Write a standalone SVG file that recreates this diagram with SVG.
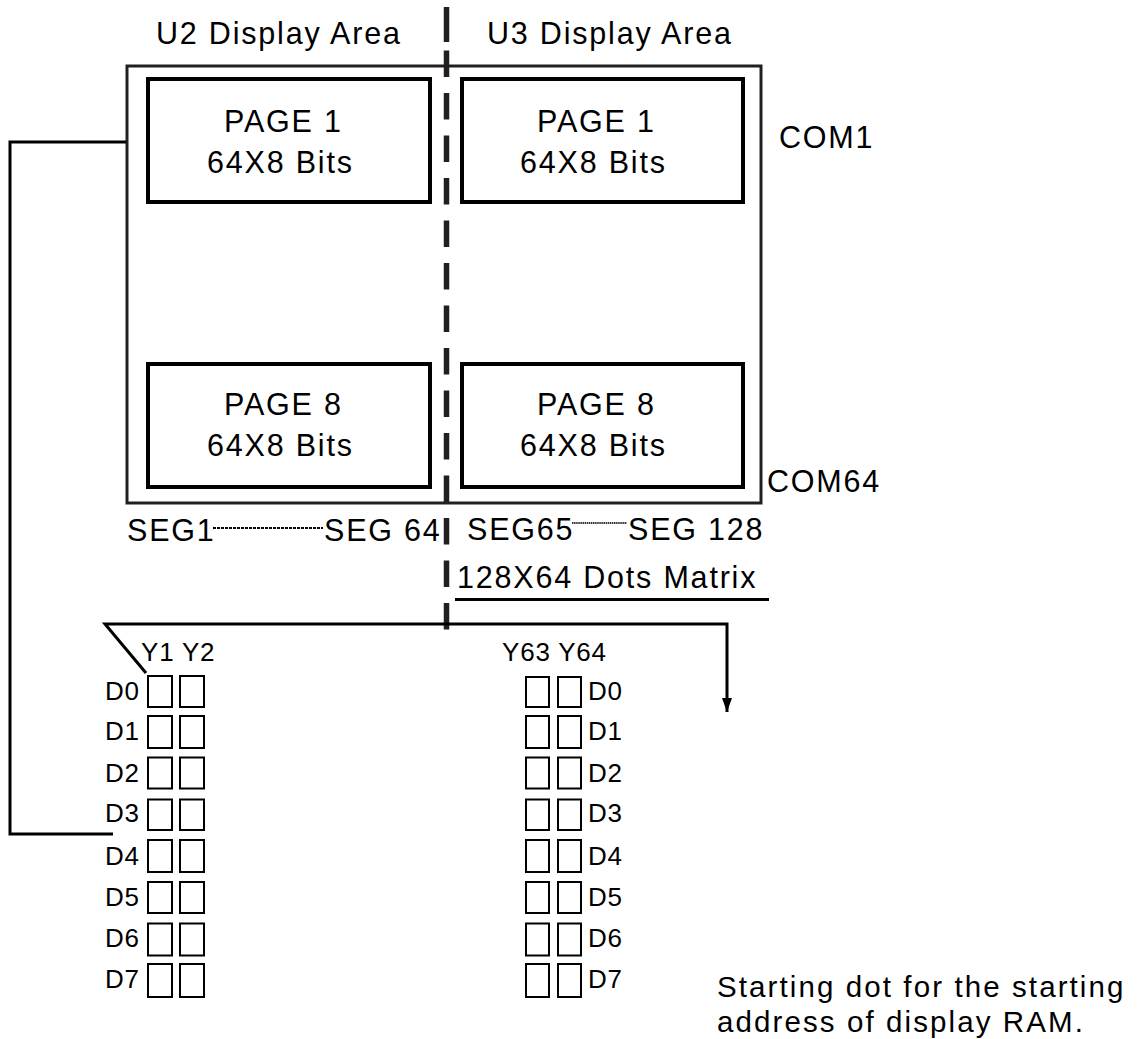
<svg xmlns="http://www.w3.org/2000/svg" width="1138" height="1039" viewBox="0 0 1138 1039">
<style>
  .big { font-family: "Liberation Sans", Arial, sans-serif; font-size: 30.5px; letter-spacing: 1.8px; fill: #000; }
  .note { font-family: "Liberation Sans", Arial, sans-serif; font-size: 29.5px; letter-spacing: 2.1px; fill: #000; }
  .small { font-family: "Liberation Sans", Arial, sans-serif; font-size: 26px; letter-spacing: 0.8px; fill: #000; }
  .page { fill: none; stroke: #000; stroke-width: 4; }
  .cell { fill: none; stroke: #000; stroke-width: 2; }
  .line { fill: none; stroke: #000; stroke-width: 3; }
  .dash { fill: none; stroke: #231f20; stroke-width: 5.5; }
</style>
<defs>
  <marker id="arrow" viewBox="0 0 14 10" refX="14" refY="5" markerWidth="14" markerHeight="10" markerUnits="userSpaceOnUse" orient="auto">
    <path d="M0,0 L14,5 L0,10 Z" fill="#000"/>
  </marker>
</defs>

<g id="outer-frame">
  <rect x="127" y="66" width="634" height="437" fill="none" stroke="#231f20" stroke-width="3"/>
</g>

<g id="divider">
  <line x1="446.5" y1="7" x2="446.5" y2="42" class="dash"/>
  <line x1="446.5" y1="50.5" x2="446.5" y2="630" class="dash" stroke-dasharray="26.5 16"/>
</g>

<g id="titles">
  <text x="156" y="44" class="big">U2 Display Area</text>
  <text x="487" y="43.5" class="big">U3 Display Area</text>
</g>

<g id="u2-page1">
  <rect x="148" y="79" width="282" height="123" class="page"/>
  <text x="224" y="131.5" class="big">PAGE 1</text>
  <text x="207" y="172.5" class="big">64X8 Bits</text>
</g>
<g id="u3-page1">
  <rect x="462" y="79" width="281" height="123" class="page"/>
  <text x="537" y="131.5" class="big">PAGE 1</text>
  <text x="520" y="172.5" class="big">64X8 Bits</text>
</g>
<g id="u2-page8">
  <rect x="148" y="364" width="282" height="123" class="page"/>
  <text x="224" y="415" class="big">PAGE 8</text>
  <text x="207" y="455.5" class="big">64X8 Bits</text>
</g>
<g id="u3-page8">
  <rect x="462" y="364" width="281" height="123" class="page"/>
  <text x="537" y="415" class="big">PAGE 8</text>
  <text x="520" y="455.5" class="big">64X8 Bits</text>
</g>

<g id="com-labels">
  <text x="779" y="148" class="big">COM1</text>
  <text x="767" y="491.5" class="big">COM64</text>
</g>

<g id="seg-labels">
  <text x="127" y="540.5" class="big">SEG1</text>
  <line x1="213" y1="528" x2="323" y2="528" stroke="#000" stroke-width="2" stroke-dasharray="3 1"/>
  <text x="324" y="540.5" class="big">SEG 64</text>
  <text x="467" y="540" class="big">SEG65</text>
  <line x1="572" y1="523" x2="627" y2="523" stroke="#333" stroke-width="2" stroke-dasharray="1.5 0.6"/>
  <text x="628" y="540" class="big">SEG 128</text>
</g>

<g id="matrix-label">
  <text x="457" y="588" class="big">128X64 Dots Matrix</text>
  <line x1="455" y1="599.5" x2="769" y2="599.5" class="line"/>
</g>

<g id="connectors">
  <path d="M126,142 H10 V834 H113" class="line"/>
  <path d="M146,673 L105,624 H727 V712" class="line" marker-end="url(#arrow)"/>
</g>

<g id="left-columns">
  <text x="141" y="661" class="small">Y1 Y2</text>
  <g id="left-d-labels">
    <text x="105" y="700" class="small">D0</text>
    <text x="105" y="740" class="small">D1</text>
    <text x="105" y="781.5" class="small">D2</text>
    <text x="105" y="822" class="small">D3</text>
    <text x="105" y="864.5" class="small">D4</text>
    <text x="105" y="906" class="small">D5</text>
    <text x="105" y="947" class="small">D6</text>
    <text x="105" y="988" class="small">D7</text>
  </g>
  <g id="left-cells">
    <rect x="148" y="676" width="24" height="31" class="cell"/><rect x="180" y="676" width="24" height="31" class="cell"/>
    <rect x="148" y="716" width="24" height="32" class="cell"/><rect x="180" y="716" width="24" height="32" class="cell"/>
    <rect x="148" y="757.5" width="24" height="31" class="cell"/><rect x="180" y="757.5" width="24" height="31" class="cell"/>
    <rect x="148" y="799.5" width="24" height="30.5" class="cell"/><rect x="180" y="799.5" width="24" height="30.5" class="cell"/>
    <rect x="148" y="840" width="24" height="32" class="cell"/><rect x="180" y="840" width="24" height="32" class="cell"/>
    <rect x="148" y="882" width="24" height="31" class="cell"/><rect x="180" y="882" width="24" height="31" class="cell"/>
    <rect x="148" y="923.5" width="24" height="32" class="cell"/><rect x="180" y="923.5" width="24" height="32" class="cell"/>
    <rect x="148" y="964" width="24" height="33" class="cell"/><rect x="180" y="964" width="24" height="33" class="cell"/>
  </g>
</g>

<g id="right-columns">
  <text x="502" y="660.5" class="small">Y63 Y64</text>
  <g id="right-cells">
    <rect x="526" y="677" width="23" height="30" class="cell"/><rect x="558" y="677" width="23" height="30" class="cell"/>
    <rect x="526" y="716" width="23" height="32" class="cell"/><rect x="558" y="716" width="23" height="32" class="cell"/>
    <rect x="526" y="757.5" width="23" height="31" class="cell"/><rect x="558" y="757.5" width="23" height="31" class="cell"/>
    <rect x="526" y="799.5" width="23" height="30.5" class="cell"/><rect x="558" y="799.5" width="23" height="30.5" class="cell"/>
    <rect x="526" y="840" width="23" height="32" class="cell"/><rect x="558" y="840" width="23" height="32" class="cell"/>
    <rect x="526" y="882" width="23" height="31" class="cell"/><rect x="558" y="882" width="23" height="31" class="cell"/>
    <rect x="526" y="923.5" width="23" height="32" class="cell"/><rect x="558" y="923.5" width="23" height="32" class="cell"/>
    <rect x="526" y="964" width="23" height="33" class="cell"/><rect x="558" y="964" width="23" height="33" class="cell"/>
  </g>
  <g id="right-d-labels">
    <text x="588" y="700" class="small">D0</text>
    <text x="588" y="740" class="small">D1</text>
    <text x="588" y="781.5" class="small">D2</text>
    <text x="588" y="822" class="small">D3</text>
    <text x="588" y="864.5" class="small">D4</text>
    <text x="588" y="906" class="small">D5</text>
    <text x="588" y="947" class="small">D6</text>
    <text x="588" y="988" class="small">D7</text>
  </g>
</g>

<g id="note">
  <text x="717" y="996.5" class="note">Starting dot for the starting</text>
  <text x="717" y="1031.5" class="note">address of display RAM.</text>
</g>
</svg>
